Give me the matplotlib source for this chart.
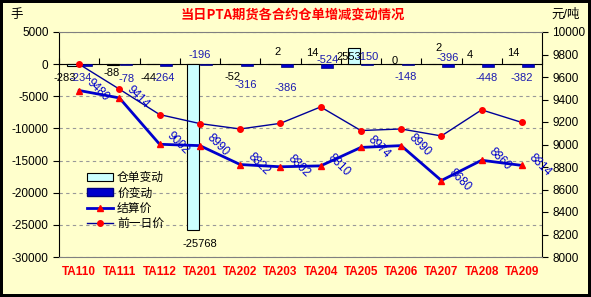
import matplotlib.pyplot as plt
from matplotlib.patches import Patch
from matplotlib.lines import Line2D
from matplotlib.transforms import blended_transform_factory

plt.rcParams['font.family'] = ['Liberation Sans', 'Noto Sans CJK SC', 'DejaVu Sans']
plt.rcParams['axes.unicode_minus'] = False

contracts = ['TA110', 'TA111', 'TA112', 'TA201', 'TA202', 'TA203',
             'TA204', 'TA205', 'TA206', 'TA207', 'TA208', 'TA209']
cangdan = [-283, -88, -44, -25768, -52, 2, 14, 2553, 0, 2, 4, 14]
jia_bian = [-234, -78, -264, -196, -316, -386, -524, -150, -148, -396, -448, -382]
jiesuan = [9480, 9414, 9002, 8990, 8822, 8802, 8810, 8974, 8990, 8680, 8860, 8814]
qianyiri = [9714, 9492, 9266, 9186, 9138, 9188, 9334, 9124, 9138, 9076, 9308, 9196]

# label offsets in pixels (placement only)
cd_off = [(-14, -12), (-8, -8), (-11, -14), (0, -14), (-8, -13), (-3, 12),
          (-8, 11), (-12, -9), (-6, 3), (-3, 16), (-12, 9), (-9, 11)]
jb_off = [(2, -12), (7, -14), (4, -12), (0, 10), (6, -19), (5, -21),
          (7, 8), (7, 8), (5, -12), (6, 9), (5, -11), (0, -11)]

bg = '#FFFFCC'
fig = plt.figure(figsize=(5.91, 2.97), dpi=100, facecolor=bg)
fig.patch.set_edgecolor('black')
fig.patch.set_linewidth(3)
ax = fig.add_axes([59/591, 40/297, 483/591, 225/297])
ax.set_facecolor(bg)
ax2 = ax.twinx()

x = list(range(len(contracts)))
ax.bar([i - 0.16 for i in x], cangdan, 0.3, color='#CCFFFF', edgecolor='black', lw=0.8, zorder=3)
ax.bar([i + 0.16 for i in x], jia_bian, 0.3, color='#0000CC', edgecolor='#000080', lw=0.5, zorder=3)

for i in x:
    ax.annotate(str(cangdan[i]), (i, cangdan[i]), xytext=cd_off[i], textcoords='offset pixels',
                ha='center', va='center', fontsize=8, color='black', zorder=5)
    ax.annotate(str(jia_bian[i]), (i, jia_bian[i]), xytext=jb_off[i], textcoords='offset pixels',
                ha='center', va='center', fontsize=8, color='#1A1AB0', zorder=5)

ax.set_xlim(-0.5, len(x) - 0.5)
ax.set_ylim(-30000, 5000)
ax.set_yticks(range(-30000, 5001, 5000))
ax.spines['bottom'].set_position(('data', 0))
ax.spines['top'].set_visible(False)
ax.spines['right'].set_visible(False)
ax.set_xticks([i - 0.5 for i in range(len(x) + 1)])
ax.tick_params(axis='x', direction='in', length=4, labelbottom=False)
ax.tick_params(axis='y', direction='out', length=4, labelsize=8.5)
ax.grid(axis='y', ls=(0, (3, 3)), color='#999999', lw=0.8)
ax.set_axisbelow(True)

ax2.plot(x, jiesuan, color='#0000CC', lw=2, marker='^', ms=4.5, mfc='red', mec='red', zorder=4)
ax2.plot(x, qianyiri, color='#000099', lw=1, marker='o', ms=4, mfc='red', mec='red', zorder=3)
for i in x:
    ax2.annotate(str(jiesuan[i]), (i, jiesuan[i]), xytext=(9, 10), textcoords='offset pixels',
                 rotation=-45, rotation_mode='anchor', ha='left', va='center',
                 fontsize=8.5, color='#0000CC')
ax2.set_ylim(8000, 10000)
ax2.set_yticks(range(8000, 10001, 200))
ax2.tick_params(axis='y', direction='out', length=4, labelsize=8.5)
ax2.spines['left'].set_visible(False)
ax2.spines['top'].set_color('#808080')
ax2.spines['bottom'].set_color('#808080')

tr = blended_transform_factory(ax.transData, ax.transAxes)
for i, c in enumerate(contracts):
    ax.text(i, -0.065, c, transform=tr, ha='center', va='center', color='red',
            fontsize=8.5, fontweight='bold')

handles = [Patch(facecolor='#CCFFFF', edgecolor='black', lw=0.8),
           Patch(facecolor='#0000CC', edgecolor='#000080'),
           Line2D([], [], color='#0000CC', lw=2, marker='^', ms=4.5, mfc='red', mec='red'),
           Line2D([], [], color='#000099', lw=1, marker='o', ms=4, mfc='red', mec='red')]
ax2.legend(handles, ['仓单变动', '价变动', '结算价', '前一日价'], loc='upper left',
           bbox_to_anchor=(0.058, 0.378), frameon=False, fontsize=8.5, borderpad=0,
           borderaxespad=0, handlelength=2.2, handletextpad=0.35, labelspacing=0.3)

fig.text(293/591, 1 - 15/297, '当日PTA期货各合约仓单增减变动情况', ha='center', va='center',
         color='red', fontsize=9.5, fontweight='bold', family=['Noto Sans CJK SC', 'DejaVu Sans'])
fig.text(10/591, 1 - 15/297, '手', ha='left', va='center', fontsize=9)
fig.text(580/591, 1 - 15/297, '元/吨', ha='right', va='center', fontsize=9)

fig.savefig('out.png', dpi=100, facecolor=bg)
